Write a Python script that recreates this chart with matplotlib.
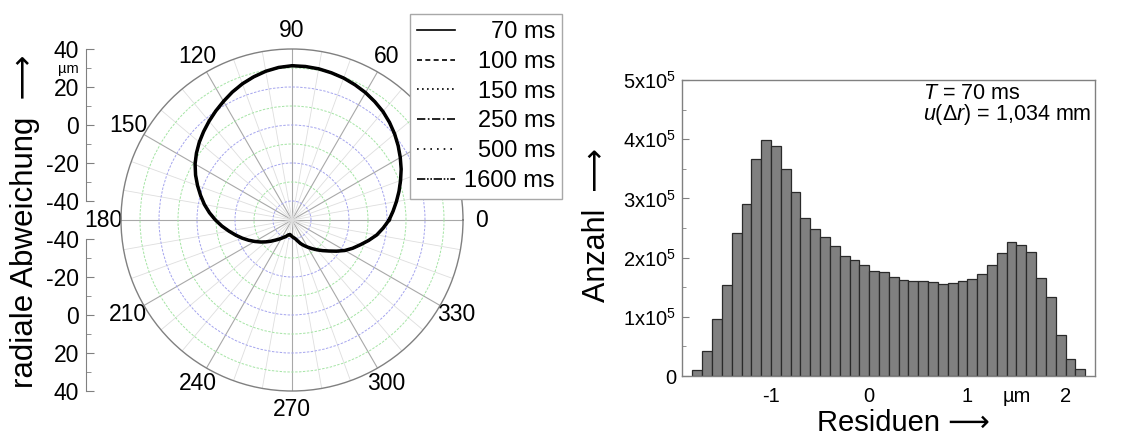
import matplotlib
matplotlib.use('Agg')
import matplotlib.pyplot as plt
import numpy as np
from matplotlib.ticker import FixedLocator, MultipleLocator

plt.rcParams['font.family'] = ['Liberation Sans', 'DejaVu Sans']
plt.rcParams['mathtext.fontset'] = 'custom'
plt.rcParams['mathtext.rm'] = 'Liberation Sans'
plt.rcParams['mathtext.it'] = 'Liberation Sans:italic'
plt.rcParams['mathtext.bf'] = 'Liberation Sans:bold'

# --- polar plot: radial deviation (um) over angle (deg) ---
angle_deg = [0, 5, 10, 15, 20, 25, 30, 35, 40, 45, 50, 55, 60, 65, 70, 75,
             80, 85, 90, 95, 100, 105, 110, 115, 120, 125, 130, 135, 140,
             145, 150, 155, 160, 165, 170, 175, 180, 185, 190, 195, 200,
             205, 210, 215, 220, 225, 230, 235, 240, 245, 250, 256, 262,
             266, 270, 275, 280, 285, 290, 295, 300, 305, 310, 315, 320,
             325, 330, 335, 340, 345, 350, 355]
radial_dev = [1.1, 3.4, 5.8, 8.3, 10.8, 13.4, 15.8, 18.2, 20.5, 22.6, 24.5,
              26.0, 27.4, 28.5, 29.5, 30.2, 30.8, 31.1, 31.2, 30.6, 29.5,
              28.0, 26.3, 24.3, 22.1, 20.0, 17.9, 15.8, 13.7, 11.4, 8.9, 6.0,
              2.9, -0.2, -3.2, -6.4, -9.7, -13.0, -16.3, -19.3, -22.1, -24.8,
              -27.4, -29.8, -32.1, -34.2, -36.1, -37.6, -38.9, -40.0, -40.8,
              -41.9, -42.3, -41.9, -41.3, -40.7, -40.0, -38.6, -36.8, -35.2,
              -33.5, -31.6, -29.5, -27.2, -24.6, -21.4, -17.9, -14.8, -11.8,
              -8.3, -4.7, -1.8]
series_labels = ['70 ms', '100 ms', '150 ms', '250 ms', '500 ms', '1600 ms']
series_styles = ['-', (0, (3, 2)), (0, (1, 2)), (0, (5, 1.5, 1, 1.5)),
                 (0, (1, 3)), (0, (5, 1, 1, 1, 1, 1))]
ring_vals = [-40, -30, -20, -10, 0, 10, 20, 30]
side_ticks = [-40, -20, 0, 20, 40]

# --- histogram of residuals ---
bin_start = -1.8
bin_width = 0.1
counts_e5 = [0.10, 0.42, 0.96, 1.54, 2.41, 2.90, 3.66, 3.99, 3.89, 3.49,
             3.10, 2.67, 2.49, 2.34, 2.20, 2.02, 1.96, 1.87, 1.78, 1.75,
             1.68, 1.63, 1.61, 1.61, 1.58, 1.55, 1.57, 1.61, 1.64, 1.72,
             1.87, 2.08, 2.26, 2.22, 2.09, 1.66, 1.33, 0.70, 0.29, 0.12]
xtick_pos = [-1, 0, 1, 1.5, 2]
xtick_labels = ['-1', '0', '1', 'µm', '2']
ytick_e5 = [0, 1, 2, 3, 4, 5]

W, H = 1131, 440
fig = plt.figure(figsize=(W / 100, H / 100), dpi=100)

# polar axes
axp = fig.add_axes([121 / W, 49 / H, 342 / W, 342 / H], projection='polar')
axp.set_ylim(-50, 40)
theta = np.deg2rad(np.append(angle_deg, angle_deg[0]))
r = np.append(radial_dev, radial_dev[0])
for lbl, ls in zip(series_labels, series_styles):
    lw = 2.5 if ls == '-' else 1.3
    axp.plot(theta, r, color='black', ls=ls, lw=lw, label=lbl)

axp.set_xticks(np.deg2rad(np.arange(0, 360, 30)))
axp.set_xticklabels([str(a) for a in range(0, 360, 30)])
axp.set_xticks(np.deg2rad(np.arange(0, 360, 10)), minor=True)
axp.xaxis.grid(True, which='major', color='#a8a8a8', lw=0.8)
axp.xaxis.grid(True, which='minor', color='#dedede', lw=0.6)
axp.tick_params(axis='x', which='both', length=0, pad=6, labelsize=16.5)
axp.set_yticks(ring_vals)
axp.set_yticklabels([])
axp.tick_params(axis='y', length=0)
for gl, v in zip(axp.yaxis.get_gridlines(), ring_vals):
    gl.set_color('#a4a4ee' if v % 20 == 0 else '#a4e4a4')
    gl.set_linestyle((0, (2.5, 1.5)))
    gl.set_linewidth(0.7)
axp.spines['polar'].set_color('#808080')
axp.spines['polar'].set_linewidth(1.0)

# side scale for radial deviation (upper and mirrored lower half)
for bottom_px, flip in [(220, False), (391, True)]:
    axl = fig.add_axes([86 / W, (H - bottom_px) / H, 0.001, 171 / H])
    axl.set_ylim((40, -50) if flip else (-50, 40))
    axl.set_yticks(side_ticks)
    axl.set_yticklabels([str(v) for v in side_ticks])
    axl.yaxis.set_minor_locator(FixedLocator([-30, -10, 10, 30]))
    axl.set_xticks([])
    axl.patch.set_visible(False)
    for s in ['top', 'right', 'bottom']:
        axl.spines[s].set_visible(False)
    axl.spines['left'].set_bounds(-40, 40)
    axl.spines['left'].set_color('#808080')
    axl.tick_params(axis='y', which='major', direction='in', length=6,
                    color='#808080', labelsize=16.5, pad=5)
    axl.tick_params(axis='y', which='minor', direction='in', length=3.5,
                    color='#808080')
    if not flip:
        axl.annotate('µm', xy=(0, 29.5), xycoords=('axes fraction', 'data'),
                     xytext=(-5, 0), textcoords='offset points',
                     ha='right', va='center', fontsize=10.5)

fig.text(25 / W, 1 - 221 / H, 'radiale Abweichung  ⟶', rotation=90,
         fontsize=22.5, ha='center', va='center')

leg = fig.legend(loc='upper left', bbox_to_anchor=(410 / W, 1 - 14 / H),
                 frameon=True, fancybox=False, edgecolor='#a8a8a8',
                 framealpha=1, fontsize=17, handlelength=1.6,
                 handletextpad=0.4, labelspacing=0.33, borderpad=0.3,
                 borderaxespad=0)
leg.get_frame().set_linewidth(1.0)
for h in leg.get_lines():
    h.set_linewidth(1.2)

# histogram axes
axh = fig.add_axes([681.7 / W, (H - 376) / H, 413.3 / W, 296 / H])
edges = bin_start + bin_width * np.arange(len(counts_e5))
axh.bar(edges, np.array(counts_e5) * 1e5, width=bin_width, align='edge',
        color='#808080', edgecolor='#2a2a2a', linewidth=0.9)
axh.set_xlim(-1.91, 2.30)
axh.set_ylim(0, 5e5)
axh.set_xticks(xtick_pos)
axh.set_xticklabels(xtick_labels)
axh.set_yticks([k * 1e5 for k in ytick_e5])
axh.set_yticklabels(['0' if k == 0 else r'$\mathregular{%dx10^5}$' % k
                     for k in ytick_e5])
axh.yaxis.set_minor_locator(MultipleLocator(0.5e5))
for s in axh.spines.values():
    s.set_color('#808080')
    s.set_linewidth(1.0)
axh.tick_params(which='both', direction='in', color='#808080', labelsize=14.5)
axh.tick_params(axis='y', which='major', length=5, pad=4)
axh.tick_params(axis='y', which='minor', length=3)
axh.tick_params(axis='x', length=0, pad=8)
axh.text(0.584, 0.953, r'$T$ = 70 ms', transform=axh.transAxes,
         fontsize=15.5, va='center', ha='left')
axh.text(0.584, 0.882, r'$u$(Δ$r$) = 1,034 mm', transform=axh.transAxes,
         fontsize=15.5, va='center', ha='left')

fig.text(597 / W, 1 - 225 / H, 'Anzahl  ⟶', rotation=90, fontsize=22,
         ha='center', va='center')
fig.text(903 / W, 1 - 423 / H, 'Residuen ⟶', fontsize=21,
         ha='center', va='center')

# right-align legend labels
fig.canvas.draw()
widths = [t.get_window_extent().width for t in leg.get_texts()]
for t, w in zip(leg.get_texts(), widths):
    t.set_position((max(widths) - w, 0))

fig.savefig('out.png', dpi=100)
